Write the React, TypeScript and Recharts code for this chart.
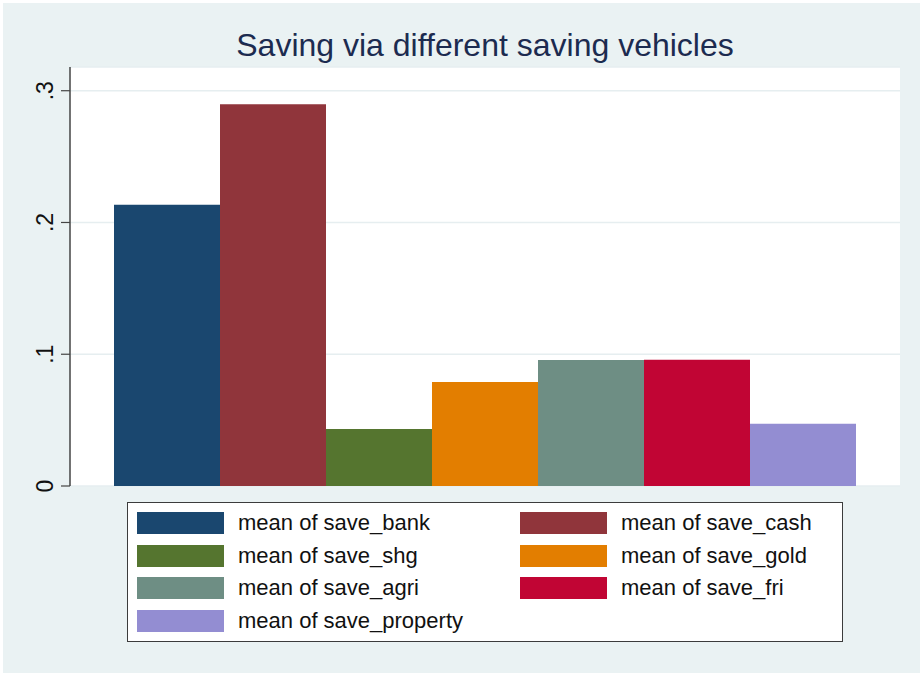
import React from "react"
import { BarChart, Bar, XAxis, YAxis, CartesianGrid, Legend } from "recharts"

const seriesKeys = ["save_bank", "save_cash", "save_shg", "save_gold", "save_agri", "save_fri", "save_property"]
const seriesValues = [0.2134, 0.2898, 0.0433, 0.079, 0.0957, 0.0959, 0.0473]
const seriesColors = ["#1a476f", "#90353b", "#55752f", "#e37e00", "#6e8e84", "#c10534", "#938dd2"]
const yTicks = [0, 0.1, 0.2, 0.3]
const yTickLabels = ["0", ".1", ".2", ".3"]

const row: Record<string, any> = { name: "all" }
seriesKeys.forEach((k, i) => {
  row[k] = seriesValues[i]
})
const data = [row]

const font = '"Liberation Sans", Arial, Helvetica, sans-serif'

const YTick = (props: any) => {
  const { x, y, payload } = props
  const idx = yTicks.indexOf(payload.value)
  return (
    <text
      transform={`translate(${x},${y}) rotate(-90)`}
      textAnchor="middle"
      fontSize={23}
      fontFamily={font}
      fill="#111"
    >
      {idx >= 0 ? yTickLabels[idx] : payload.value}
    </text>
  )
}

// legend keeps the series order (recharts would sort it by name)
const LegendBox = () => (
  <div
    style={{
      boxSizing: "border-box",
      width: 716,
      height: 140,
      background: "#fff",
      border: "1.5px solid #3c3c3c",
      padding: "9px 0 0 9px",
      display: "grid",
      gridTemplateColumns: "383px 320px",
      gridAutoRows: "32.7px",
      fontFamily: font,
      fontSize: 22,
      color: "#111",
    }}
  >
    {seriesKeys.map((k, i) => (
      <div key={k} style={{ display: "flex", alignItems: "center", height: 22 }}>
        <span
          style={{ display: "inline-block", flexShrink: 0, width: 87, height: 22, background: seriesColors[i], marginRight: 14 }}
        />
        <span style={{ whiteSpace: "nowrap" }}>{`mean of ${k}`}</span>
      </div>
    ))}
  </div>
)

export default function App() {
  return (
    <div style={{ position: "absolute", left: 0, top: 0, width: 922, height: 675, background: "#fff" }}>
      <div style={{ position: "absolute", left: 3, top: 3, width: 917, height: 670, background: "#eaf2f3" }} />
      <div
        style={{
          position: "absolute",
          left: 0,
          top: 29,
          width: 970,
          textAlign: "center",
          fontFamily: font,
          fontSize: 32,
          lineHeight: "32px",
          color: "#1c2b50",
        }}
      >
        Saving via different saving vehicles
      </div>
      <div style={{ position: "absolute", left: 0, top: 0 }}>
        <BarChart
          width={922}
          height={675}
          data={data}
          margin={{ top: 67, right: 22, bottom: 189, left: 10 }}
          barCategoryGap={44}
          barGap={0}
        >
          <CartesianGrid vertical={false} fill="#fff" stroke="#e6eef0" strokeWidth={1.5} />
          <XAxis dataKey="name" height={0} tick={false} tickLine={false} axisLine={{ stroke: "#222", strokeWidth: 1.5 }} />
          <YAxis
            width={60}
            domain={[0, 0.318]}
            ticks={yTicks}
            interval={0}
            tickSize={9}
            tickMargin={8}
            tick={<YTick />}
            tickLine={{ stroke: "#444", strokeWidth: 1.2 }}
            axisLine={{ stroke: "#444", strokeWidth: 1.5 }}
          />
          <Legend
            layout="horizontal"
            verticalAlign="middle"
            align="center"
            content={<LegendBox />}
            wrapperStyle={{ left: 127, top: 502, width: 716, height: 140 }}
          />
          {seriesKeys.map((k, i) => (
            <Bar
              key={k}
              dataKey={k}
              name={`mean of ${k}`}
              fill={seriesColors[i]}
              isAnimationActive={false}
            />
          ))}
        </BarChart>
      </div>
    </div>
  )
}
